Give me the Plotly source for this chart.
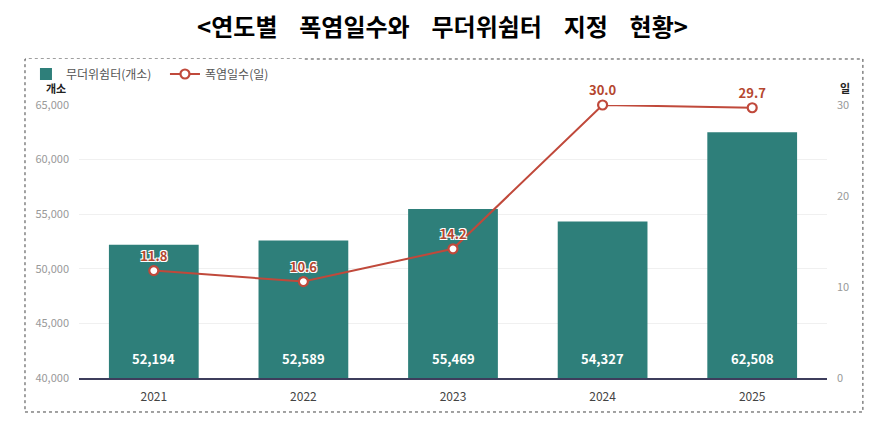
import plotly.graph_objects as go

years = [2021, 2022, 2023, 2024, 2025]
shelters = [52194, 52589, 55469, 54327, 62508]
heat_days = [11.8, 10.6, 14.2, 30.0, 29.7]

left_ticks = [40000, 45000, 50000, 55000, 60000, 65000]
right_ticks = [0, 10, 20, 30]

bar_color = "#2e7f7a"
line_color = "#c0493b"
font_kr = "Noto Sans CJK KR"

fig = go.Figure()

fig.add_trace(go.Bar(
    x=years, y=shelters, name="무더위쉼터(개소)",
    marker=dict(color=bar_color, line=dict(width=0)),
    width=0.6,
))

fig.add_trace(go.Scatter(
    x=years, y=heat_days, name="폭염일수(일)", yaxis="y2",
    mode="lines+markers+text",
    line=dict(color=line_color, width=2),
    marker=dict(size=9, color="white", line=dict(color=line_color, width=2.2)),
    text=[f"{v:.1f}" for v in heat_days],
    textposition="top center",
    textfont=dict(family=font_kr, size=13, color="#b5472f", weight="bold",
                  shadow="-1px -1px 0 #fff, 1px -1px 0 #fff, -1px 1px 0 #fff, 1px 1px 0 #fff"),
    cliponaxis=False,
))

# value labels at the bottom of each bar
for yr, v in zip(years, shelters):
    fig.add_annotation(x=yr, y=41800, xref="x", yref="y", text=f"{v:,}",
                       showarrow=False,
                       font=dict(family=font_kr, size=13, color="white", weight="bold"))

fig.add_annotation(x=-0.0147, y=1.027, xref="paper", yref="paper", text="개소",
                   showarrow=False, xanchor="right", yanchor="bottom",
                   font=dict(family=font_kr, size=11, color="#222", weight="bold"))
fig.add_annotation(x=1.0147, y=1.027, xref="paper", yref="paper", text="일",
                   showarrow=False, xanchor="left", yanchor="bottom",
                   font=dict(family=font_kr, size=11, color="#222", weight="bold"))

fig.add_shape(type="rect", xref="paper", yref="paper",
              x0=-0.0722, x1=1.048, y0=-0.1245, y1=1.1685,
              line=dict(color="#444", width=1, dash="dot"))

gap = "\u00a0" * 4
title_text = gap.join(["<연도별", "폭염일수와", "무더위쉼터", "지정", "현황>"])

# page body has an 8px margin, so the figure is sized to fit inside the window
fig.update_layout(
    width=878, height=411,
    margin=dict(l=71, r=59, t=97, b=41),
    paper_bgcolor="white", plot_bgcolor="white",
    title=dict(text=title_text, x=0.486, xref="paper", xanchor="center",
               y=1 - 20 / 411, yanchor="middle",
               font=dict(family=font_kr, size=24, color="black", weight="bold")),
    font=dict(family=font_kr),
    showlegend=True,
    legend=dict(orientation="h", x=-0.0709, y=1.1136, xanchor="left", yanchor="middle",
                font=dict(size=12, color="#555"), traceorder="normal",
                entrywidth=94, entrywidthmode="pixels"),
    xaxis=dict(type="linear", range=[2020.5, 2025.5], tickvals=years,
               ticktext=[str(y) for y in years],
               showline=True, linecolor="#3d3d5c", linewidth=1.5,
               tickfont=dict(size=12, color="#444"), ticks="", showgrid=False,
               ticklabelstandoff=7),
    yaxis=dict(range=[40000, 65000], tickvals=left_ticks, tickformat=",",
               showgrid=True, gridcolor="#f0f0f0", zeroline=False,
               tickfont=dict(size=11, color="#999"), ticklabelstandoff=9),
    yaxis2=dict(range=[0, 30], tickvals=right_ticks, overlaying="y", side="right",
                showgrid=False, zeroline=False,
                tickfont=dict(size=11, color="#999"), ticklabelstandoff=9),
)

fig.write_html("out.html")
